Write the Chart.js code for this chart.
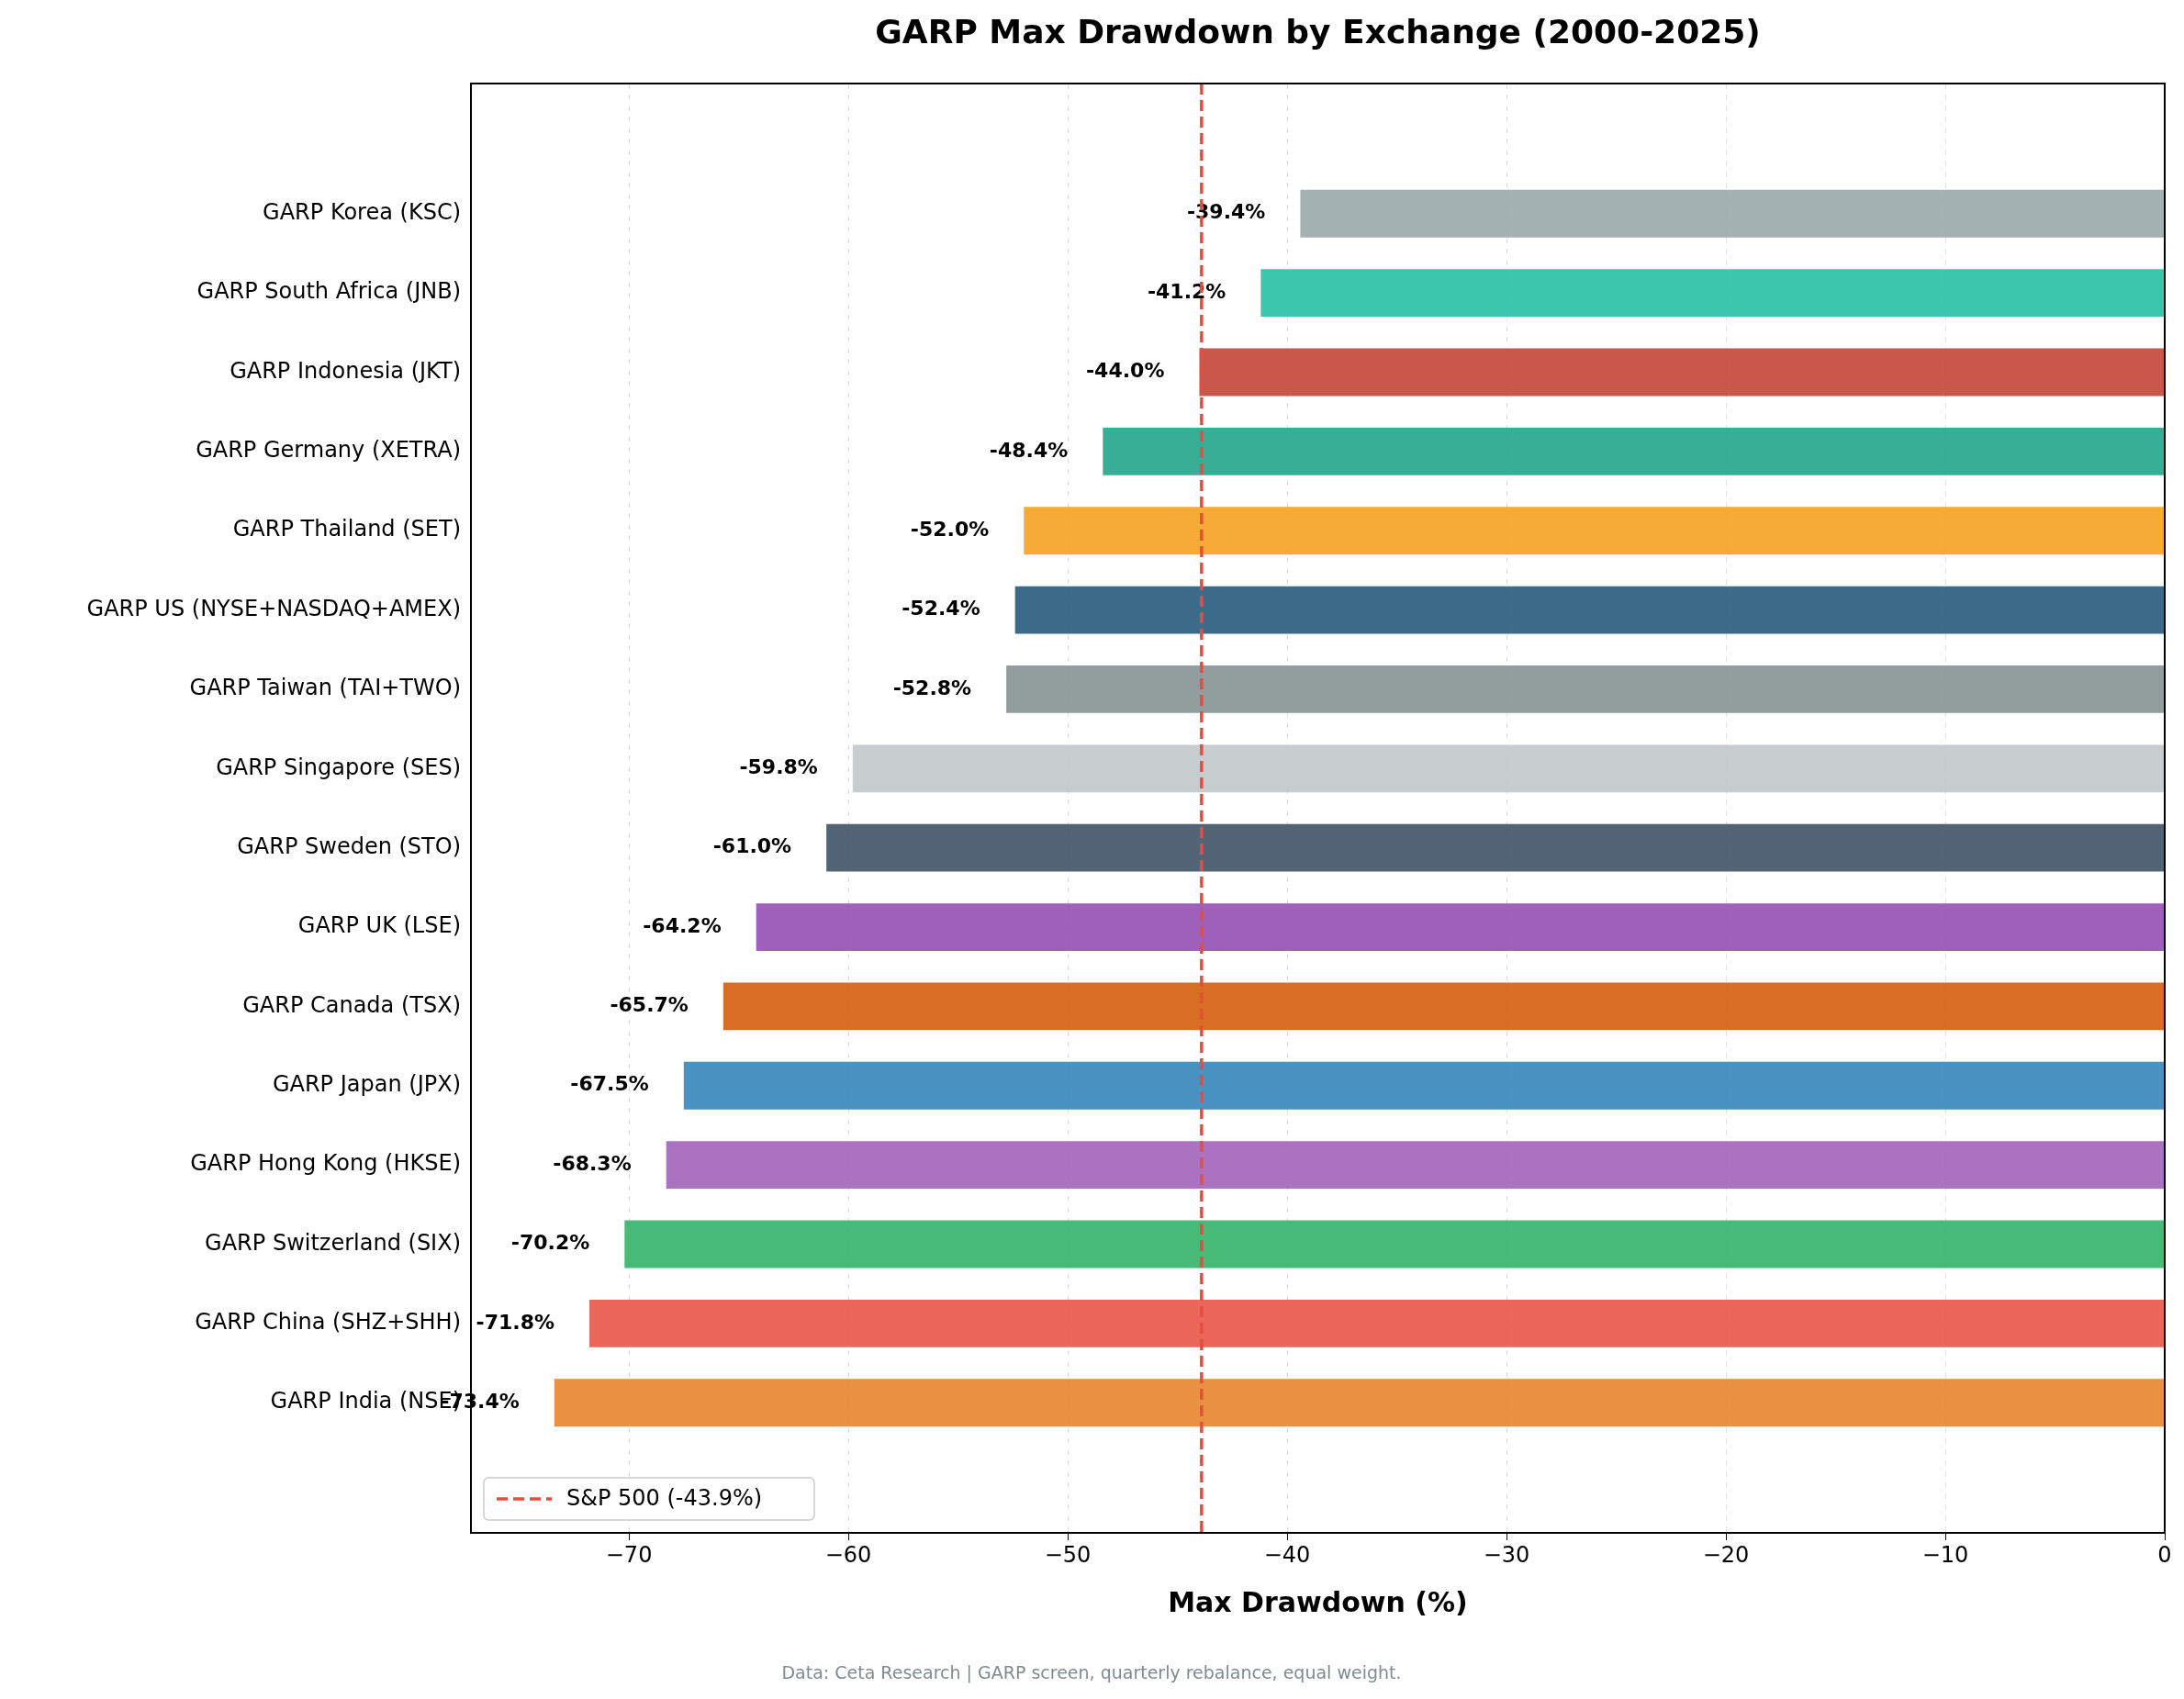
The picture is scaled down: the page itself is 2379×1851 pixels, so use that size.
<!DOCTYPE html>
<html>
<head>
<meta charset="utf-8">
<script src="https://cdn.jsdelivr.net/npm/chart.js@4"></script>
<style>body{margin:0;background:#fff}</style>
</head>
<body>
<canvas id="c" width="2379" height="1851"></canvas>
<script>
var exchanges = ["GARP Korea (KSC)", "GARP South Africa (JNB)", "GARP Indonesia (JKT)", "GARP Germany (XETRA)",
  "GARP Thailand (SET)", "GARP US (NYSE+NASDAQ+AMEX)", "GARP Taiwan (TAI+TWO)", "GARP Singapore (SES)",
  "GARP Sweden (STO)", "GARP UK (LSE)", "GARP Canada (TSX)", "GARP Japan (JPX)", "GARP Hong Kong (HKSE)",
  "GARP Switzerland (SIX)", "GARP China (SHZ+SHH)", "GARP India (NSE)"];
var drawdowns = [-39.4, -41.2, -44.0, -48.4, -52.0, -52.4, -52.8, -59.8, -61.0, -64.2, -65.7, -67.5, -68.3, -70.2, -71.8, -73.4];
var barColors = ["#95a5a6", "#1abc9c", "#c0392b", "#16a085", "#f39c12", "#1a5276", "#7f8c8d", "#bdc3c7",
  "#34495e", "#8e44ad", "#d35400", "#2980b9", "#9b59b6", "#27ae60", "#e74c3c", "#e67e22"];
var benchmark = -43.9;
var xTicks = [-70, -60, -50, -40, -30, -20, -10, 0];

var font = "'DejaVu Sans', sans-serif";

var overlay = {
  id: 'overlay',
  afterDatasetsDraw: function (chart) {
    var ctx = chart.ctx, a = chart.chartArea, xs = chart.scales.x, ys = chart.scales.y;
    ctx.save();
    // value labels
    ctx.font = "bold 22px " + font;
    ctx.fillStyle = "#000";
    ctx.textAlign = "right";
    ctx.textBaseline = "middle";
    drawdowns.forEach(function (v, i) {
      ctx.fillText(v.toFixed(1) + "%", xs.getPixelForValue(v) - 38, ys.getPixelForValue(i));
    });
    // benchmark line
    var bx = xs.getPixelForValue(benchmark);
    ctx.strokeStyle = "#e74c3c";
    ctx.lineWidth = 3.5;
    ctx.setLineDash([12, 6]);
    ctx.beginPath(); ctx.moveTo(bx, a.top); ctx.lineTo(bx, a.bottom); ctx.stroke();
    // legend
    ctx.setLineDash([]);
    ctx.fillStyle = "rgba(255,255,255,0.85)";
    ctx.strokeStyle = "#ccc"; ctx.lineWidth = 1.5;
    ctx.beginPath(); ctx.roundRect(a.left + 14, a.bottom - 60, 360, 46, 5); ctx.fill(); ctx.stroke();
    ctx.strokeStyle = "#e74c3c"; ctx.lineWidth = 3.5; ctx.setLineDash([12, 6]);
    ctx.beginPath(); ctx.moveTo(a.left + 28, a.bottom - 37); ctx.lineTo(a.left + 88, a.bottom - 37); ctx.stroke();
    ctx.setLineDash([]);
    ctx.fillStyle = "#000"; ctx.textAlign = "left"; ctx.font = "24px " + font;
    ctx.fillText("S&P 500 (" + benchmark.toFixed(1) + "%)", a.left + 104, a.bottom - 36);
    // frame
    ctx.strokeStyle = "#000"; ctx.lineWidth = 2;
    ctx.strokeRect(a.left, a.top, a.right - a.left, a.bottom - a.top);
    // titles
    ctx.textAlign = "center";
    ctx.font = "bold 36px " + font;
    ctx.fillText("GARP Max Drawdown by Exchange (2000-2025)", (a.left + a.right) / 2, 38);
    ctx.font = "bold 30px " + font;
    ctx.fillText("Max Drawdown (%)", (a.left + a.right) / 2, 1748);
    ctx.font = "19px " + font;
    ctx.fillStyle = "#7f8c8d";
    ctx.fillText("Data: Ceta Research | GARP screen, quarterly rebalance, equal weight.", 1189, 1824);
    ctx.restore();
  }
};

new Chart(document.getElementById('c'), {
  type: 'bar',
  data: {
    datasets: [{
      data: drawdowns.map(function (v, i) { return { x: v, y: i }; }),
      backgroundColor: barColors.map(function (c) { return c + "d9"; }),
      barPercentage: 0.6,
      categoryPercentage: 1
    }]
  },
  options: {
    indexAxis: 'y',
    responsive: false,
    devicePixelRatio: 1,
    animation: false,
    layout: { padding: { top: 91, right: 21, left: 0, bottom: 0 } },
    plugins: { legend: { display: false }, tooltip: { enabled: false } },
    scales: {
      x: {
        type: 'linear', min: -77.2, max: 0,
        afterBuildTicks: function (s) { s.ticks = xTicks.map(function (v) { return { value: v }; }); },
        ticks: { font: { size: 24, family: font }, color: "#000",
          callback: function (v) { return v < 0 ? "\u2212" + Math.abs(v) : String(v); } },
        grid: { color: "rgba(0,0,0,0.12)", tickColor: "#000", tickLength: 8, drawTicks: true },
        border: { dash: [6, 6], display: false },
        afterFit: function (s) { s.height = 181; }
      },
      y: {
        type: 'linear', min: -1.07, max: 16.07, reverse: true,
        afterBuildTicks: function (s) { s.ticks = exchanges.map(function (e, i) { return { value: i }; }); },
        ticks: { font: { size: 24, family: font }, color: "#000",
          callback: function (v) { return exchanges[v]; } },
        grid: { display: false },
        border: { display: false },
        afterFit: function (s) { s.width = 513; }
      }
    }
  },
  plugins: [overlay]
});
</script>
</body>
</html>
